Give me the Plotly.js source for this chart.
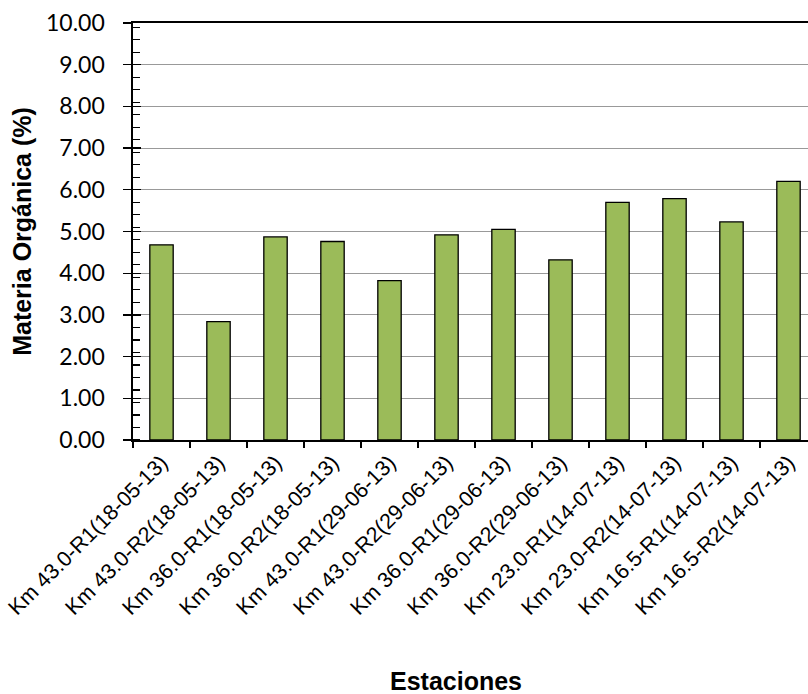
<!DOCTYPE html>
<html>
<head>
<meta charset="utf-8">
<script src="https://cdn.plot.ly/plotly-3.0.1.min.js"></script>
<style>html,body{margin:0;padding:0;overflow:hidden;background:#fff;}#chart{width:820px;height:694px;}</style>
</head>
<body>
<div id="chart"></div>
<script>
const estaciones = [
  "Km 43.0-R1(18-05-13)", "Km 43.0-R2(18-05-13)", "Km 36.0-R1(18-05-13)", "Km 36.0-R2(18-05-13)",
  "Km 43.0-R1(29-06-13)", "Km 43.0-R2(29-06-13)", "Km 36.0-R1(29-06-13)", "Km 36.0-R2(29-06-13)",
  "Km 23.0-R1(14-07-13)", "Km 23.0-R2(14-07-13)", "Km 16.5-R1(14-07-13)", "Km 16.5-R2(14-07-13)"
];
const materiaOrganica = [4.68, 2.84, 4.87, 4.76, 3.82, 4.92, 5.05, 4.32, 5.70, 5.79, 5.23, 6.20];
const yTicks = [0,1,2,3,4,5,6,7,8,9,10];
const yTickText = yTicks.map(v => v.toFixed(2));

const trace = {
  type: 'bar',
  x: estaciones,
  y: materiaOrganica,
  width: 0.41,
  marker: {color: '#9BBB59', line: {color: '#000000', width: 1.3}},
  hoverinfo: 'x+y'
};

const layout = {
  width: 820, height: 694,
  margin: {l: 133, r: 3, t: 23, b: 254},
  paper_bgcolor: '#ffffff', plot_bgcolor: '#ffffff',
  showlegend: false,
  font: {family: '"Liberation Sans", Arial, sans-serif', color: '#000'},
  xaxis: {
    type: 'category',
    range: [-0.5, estaciones.length - 0.5],
    tickangle: -45,
    tickfont: {size: 21.5, color: '#000', family: '"Liberation Sans", Arial, sans-serif'},
    ticks: 'outside', ticklen: 6, tickcolor: '#000', tickwidth: 1.3,
    tickson: 'boundaries',
    showline: true, linecolor: '#000', linewidth: 1.6, mirror: true,
    showgrid: false,
    automargin: false
  },
  yaxis: {
    range: [0, 10],
    tickvals: yTicks, ticktext: yTickText,
    tickfont: {size: 23, color: '#000', family: 'Lato, Carlito, Calibri, sans-serif'},
    ticks: 'outside', ticklen: 8, tickcolor: '#000', tickwidth: 1.3,
    ticklabelstandoff: 14,
    minor: {tick0: 0, dtick: 0.3, ticks: 'inside', ticklen: 7, tickcolor: '#000', tickwidth: 1.2, showgrid: false},
    showline: true, linecolor: '#000', linewidth: 1.6,
    showgrid: true, gridcolor: '#999999', gridwidth: 1.2,
    zeroline: false,
    title: {text: 'Materia Orgánica (%)', font: {size: 25, color: '#000', family: '"Liberation Sans", Arial, sans-serif', weight: 'bold'}, standoff: 7},
    automargin: false
  },
  yaxis2: {
    overlaying: 'y', side: 'left', anchor: 'x',
    range: [0, 10],
    tickvals: yTicks,
    showticklabels: false,
    ticks: 'inside', ticklen: 8, tickcolor: '#000', tickwidth: 1.3,
    showgrid: false, zeroline: false, showline: false
  },
  annotations: [{
    text: 'Estaciones', showarrow: false,
    xref: 'paper', yref: 'paper', x: 0.472, y: -0.578,
    xanchor: 'center', yanchor: 'middle',
    font: {size: 25, color: '#000', family: '"Liberation Sans", Arial, sans-serif', weight: 'bold'}
  }],
  bargap: 0.59
};

const dummy = {type: 'scatter', x: [estaciones[0]], y: [0], yaxis: 'y2', mode: 'markers', marker: {opacity: 0, size: 1}, hoverinfo: 'skip', showlegend: false};

Plotly.newPlot('chart', [trace, dummy], layout, {displayModeBar: false, staticPlot: true});
</script>
</body>
</html>
